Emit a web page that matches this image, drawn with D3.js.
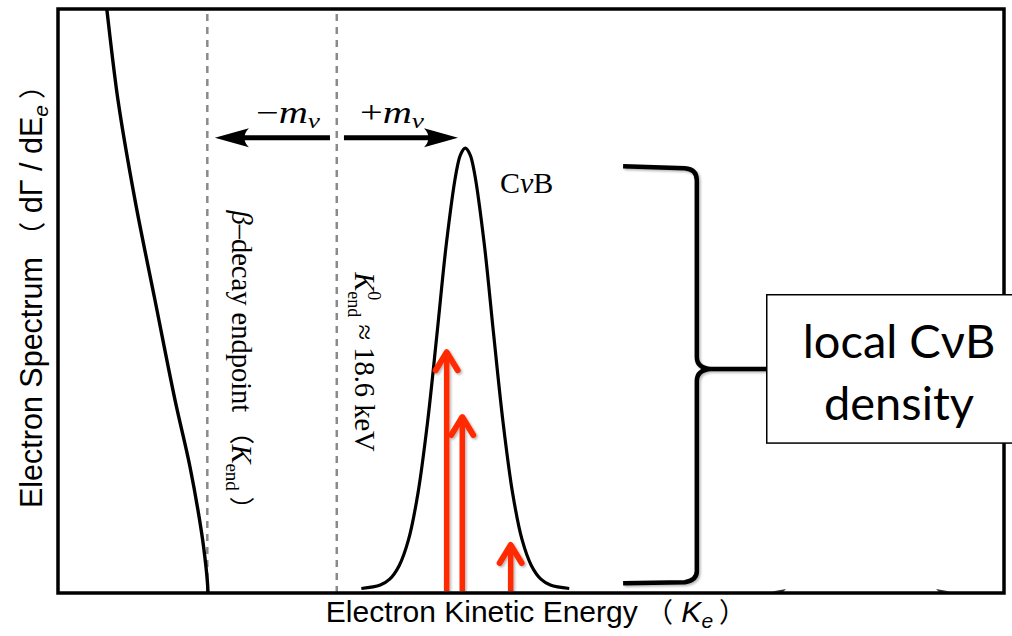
<!DOCTYPE html>
<html>
<head>
<meta charset="utf-8">
<script src="https://cdn.jsdelivr.net/npm/d3@7"></script>
<style>
  html, body { margin: 0; padding: 0; background: #fff; }
  svg { display: block; }
</style>
</head>
<body>
<script>
// ---------- data (arbitrary units) ----------
// beta-decay spectrum near the endpoint
const betaEnergy = [5.0, 5.15, 6.35, 8.15, 10.26, 12.38, 13.97, 15.2, 15.66, 15.82, 15.87];
const betaRate   = [102, 100, 84.2, 67.1, 50.0, 32.9, 21.4, 10.1, 4.3, 1.5, 0];

// CνB capture peak
const peakEnergy = [32.1, 34.1, 35.1, 36.1, 37.1, 38.1, 39.1, 40.1, 41.1, 42.1, 42.6, 43.1,
                    43.6, 44.1, 45.1, 46.1, 47.1, 48.1, 49.1, 50.1, 51.1, 52.1, 54.1];
const peakRate   = [0.6, 1.2, 2.2, 4.5, 9.0, 17.0, 29.0, 44.1, 59.7, 71.5, 74.9, 76.0,
                    74.9, 71.5, 59.7, 44.1, 29.0, 17.0, 9.0, 4.5, 2.2, 1.2, 0.6];

// endpoint markers (dashed lines)
const markerEnergy = [15.8, 29.5];

// red event arrows
const eventEnergy = [41.13, 42.78, 47.9];
const eventHeight = [41.4, 30.3, 8.4];

// neutrino-mass shift arrows: [from, to]
const shiftFrom  = [28.78, 30.26];
const shiftTo    = [16.6, 42.33];
const shiftLevel = 77.8;
const shiftLabels = ["−m", "+m"];

// bracket & box (data units)
const bracketSpine = 67.6, bracketLeft = 59.8, bracketTip = 75.0;
const bracketTop = 72.9, bracketMid = 38.2, bracketBottom = 1.5;
const boxLeft = 75.0, boxRight = 101.2, boxTop = 50.9, boxBottom = 25.5;
const boxLines = ["local CνB", "density"];

// ---------- setup ----------
const W = 1012, H = 636;
const svg = d3.select("body").append("svg").attr("width", W).attr("height", H);
const frame = { l: 58, t: 9, r: 1004, b: 593 };

const x = d3.scaleLinear().domain([0, 100]).range([58, 1003]);
const y = d3.scaleLinear().domain([0, 100]).range([592, 8]);

const defs = svg.append("defs");
defs.append("clipPath").attr("id", "clip").append("rect")
  .attr("x", frame.l).attr("y", frame.t).attr("width", frame.r - frame.l).attr("height", frame.b - frame.t);
const sh = defs.append("filter").attr("id", "shadow").attr("x", "-20%").attr("y", "-20%").attr("width", "140%").attr("height", "140%");
sh.append("feDropShadow").attr("dx", 1.5).attr("dy", 1.5).attr("stdDeviation", 1.2)
  .attr("flood-color", "#000").attr("flood-opacity", 0.3);

const serif = "'Liberation Serif', 'Times New Roman', serif";
const sans = "'Liberation Sans', Arial, 'Noto Sans CJK SC', sans-serif";
const cjk = "'Noto Sans CJK SC', sans-serif";

// faint hidden arrow on the axis (bottom right)
const ax = svg.append("g").attr("fill", "#333");
ax.append("path").attr("d", "M772,591.5 L786,589 L783,592 Z");
ax.append("path").attr("d", "M950,591.5 L936,589 L939,592 Z");

// dashed markers
svg.append("g").selectAll("line").data(markerEnergy).join("line")
  .attr("x1", d => x(d)).attr("x2", d => x(d))
  .attr("y1", 14).attr("y2", frame.b)
  .attr("stroke", "#8a8a8a").attr("stroke-width", 2.5).attr("stroke-dasharray", "7,6");

// curves
const gCurves = svg.append("g").attr("clip-path", "url(#clip)");
const line = d3.line().x(d => x(d[0])).y(d => y(d[1])).curve(d3.curveCatmullRom.alpha(0.5));
gCurves.append("path")
  .attr("d", line(d3.zip(betaEnergy, betaRate)))
  .attr("fill", "none").attr("stroke", "#000").attr("stroke-width", 3.4);
gCurves.append("path")
  .attr("d", line(d3.zip(peakEnergy, peakRate)))
  .attr("fill", "none").attr("stroke", "#000").attr("stroke-width", 3.2);

// red event arrows
const red = "#ff2a00";
const gRed = svg.append("g").attr("filter", "url(#shadow)");
eventEnergy.forEach((e, i) => {
  const cx = x(e), ty = y(eventHeight[i]);
  gRed.append("line").attr("x1", cx).attr("x2", cx).attr("y1", ty + 2).attr("y2", y(0) - 1)
    .attr("stroke", red).attr("stroke-width", 5.5);
  gRed.append("path").attr("d", `M${cx - 11},${ty + 20} L${cx},${ty + 2} L${cx + 11},${ty + 20}`)
    .attr("fill", "none").attr("stroke", red).attr("stroke-width", 6)
    .attr("stroke-linecap", "round").attr("stroke-linejoin", "round");
});

// shift arrows
const gShift = svg.append("g");
shiftFrom.forEach((f, i) => {
  const x0 = x(f), x1 = x(shiftTo[i]), yy = y(shiftLevel);
  const dir = Math.sign(x1 - x0);
  const L = 34, hw = 9.5;
  gShift.append("line").attr("x1", x0).attr("x2", x1 - dir * (L - 8)).attr("y1", yy).attr("y2", yy)
    .attr("stroke", "#000").attr("stroke-width", 5);
  gShift.append("path")
    .attr("d", `M${x1},${yy} L${x1 - dir * L},${yy - hw} Q${x1 - dir * (L - 9)},${yy} ${x1 - dir * L},${yy + hw} Z`)
    .attr("fill", "#000");
});
const labelX = [288, 392];
shiftLabels.forEach((s, i) => {
  const t = svg.append("text")
    .attr("transform", `translate(${labelX[i]},123) scale(1.3,1)`)
    .attr("text-anchor", "middle")
    .attr("font-family", serif).attr("font-size", 31).attr("fill", "#000");
  t.append("tspan").text(s[0]);
  t.append("tspan").attr("font-style", "italic").text(s[1]);
  t.append("tspan").attr("font-style", "italic").attr("font-size", 21).attr("dy", 5).text("ν");
});

// CνB label
svg.append("text").attr("x", 500).attr("y", 193).attr("font-family", serif).attr("font-size", 30)
  .attr("fill", "#000")
  .call(t => { t.append("tspan").text("C"); t.append("tspan").attr("font-style", "italic").text("ν"); t.append("tspan").text("B"); });

// rotated annotation: beta-decay endpoint
{
  const t = svg.append("text")
    .attr("transform", `translate(232,366) rotate(90)`)
    .attr("text-anchor", "middle").attr("font-family", serif).attr("font-size", 28.5).attr("fill", "#000");
  t.append("tspan").attr("font-style", "italic").text("β");
  t.append("tspan").text("–decay endpoint ");
  t.append("tspan").attr("font-family", cjk).attr("font-size", 25).text("（");
  t.append("tspan").attr("font-style", "italic").text("K");
  t.append("tspan").attr("font-size", 19).attr("dy", 6).text("end");
  t.append("tspan").attr("dy", -6).attr("font-family", cjk).attr("font-size", 25).text(" ）");
}
// rotated annotation: K_end^0
{
  const t = svg.append("text")
    .attr("transform", `translate(355,362) rotate(90)`)
    .attr("text-anchor", "middle").attr("font-family", serif).attr("font-size", 28.5).attr("fill", "#000");
  t.append("tspan").attr("font-style", "italic").text("K");
  t.append("tspan").attr("font-size", 18).attr("dy", 7).text("end");
  t.append("tspan").attr("font-size", 18).attr("dx", -26).attr("dy", -20).text("0");
  t.append("tspan").attr("dx", 17).attr("dy", 13).text(" ≈ 18.6 keV");
}

// bracket
{
  const xs = x(bracketSpine), xl = x(bracketLeft), xt = x(bracketTip);
  const yt = y(bracketTop), ym = y(bracketMid), yb = y(bracketBottom);
  const d = `M${xl},${yt} L${xs - 12},${yt + 2} Q${xs},${yt + 3} ${xs},${yt + 14} L${xs},${ym - 12} ` +
            `Q${xs},${ym - 1} ${xs + 14},${ym} L${xt},${ym} M${xs + 14},${ym} Q${xs},${ym + 1} ${xs},${ym + 12} ` +
            `L${xs},${yb - 12} Q${xs},${yb - 3} ${xs - 12},${yb - 1} L${xl},${yb}`;
  svg.append("path").attr("d", d).attr("fill", "none").attr("stroke", "#000").attr("stroke-width", 4.5)
    .attr("filter", "url(#shadow)");
}

// frame
svg.append("rect").attr("x", frame.l).attr("y", frame.t)
  .attr("width", frame.r - frame.l).attr("height", frame.b - frame.t)
  .attr("fill", "none").attr("stroke", "#000").attr("stroke-width", 3.5);

// box
svg.append("rect").attr("x", x(boxLeft)).attr("y", y(boxTop))
  .attr("width", x(boxRight) - x(boxLeft)).attr("height", y(boxBottom) - y(boxTop))
  .attr("fill", "#fff").attr("stroke", "#000").attr("stroke-width", 1.5);
svg.append("g").selectAll("text").data(boxLines).join("text")
  .attr("x", 899).attr("y", (d, i) => 358 + i * 62)
  .attr("text-anchor", "middle").attr("font-family", "Lato, 'Open Sans', sans-serif").attr("font-size", 47)
  .attr("fill", "#000").text(d => d);

// axis titles
{
  const t = svg.append("text").attr("x", 536).attr("y", 622).attr("text-anchor", "middle")
    .attr("font-family", sans).attr("font-size", 30).attr("fill", "#000");
  t.append("tspan").text("Electron Kinetic Energy ");
  t.append("tspan").attr("font-family", cjk).attr("font-size", 27).text("（");
  t.append("tspan").attr("font-style", "italic").text(" K");
  t.append("tspan").attr("font-style", "italic").attr("font-size", 21).attr("dy", 6).text("e");
  t.append("tspan").attr("dy", -6).attr("font-family", cjk).attr("font-size", 27).text(" ）");
}
{
  const t = svg.append("text").attr("transform", "translate(42,290) rotate(-90)").attr("text-anchor", "middle")
    .attr("font-family", sans).attr("font-size", 30.5).attr("fill", "#000");
  t.append("tspan").text("Electron Spectrum ");
  t.append("tspan").attr("font-family", cjk).attr("font-size", 27).text("（");
  t.append("tspan").text(" dΓ / dE");
  t.append("tspan").attr("font-style", "italic").attr("font-size", 21).attr("dy", 6).text("e");
  t.append("tspan").attr("dy", -6).attr("font-family", cjk).attr("font-size", 27).text(" ）");
}
</script>
</body>
</html>
